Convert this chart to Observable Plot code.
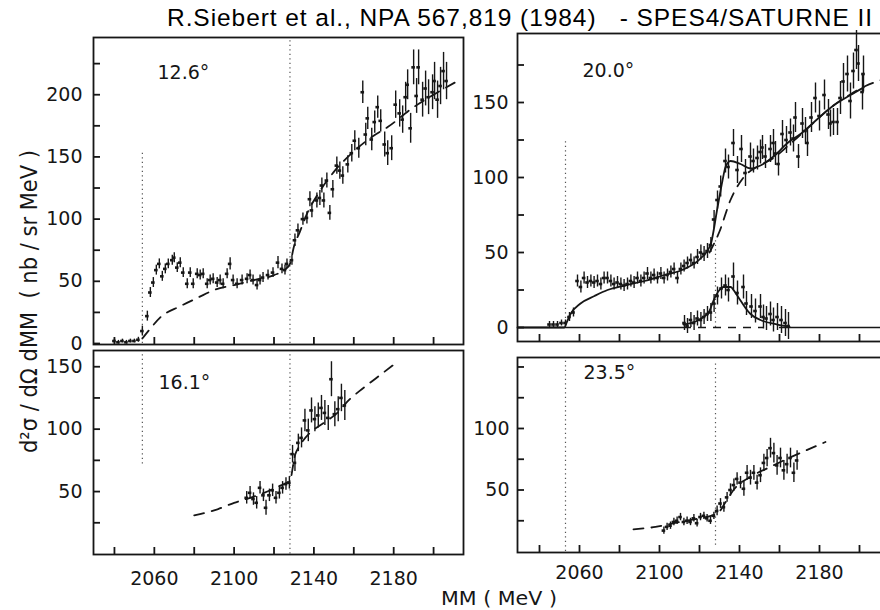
<!DOCTYPE html>
<html><head><meta charset="utf-8">
<script src="https://cdn.jsdelivr.net/npm/d3@7"></script>
<script src="https://cdn.jsdelivr.net/npm/@observablehq/plot@0.6"></script>
<style>
html,body{margin:0;padding:0;background:#fff;overflow:hidden}
#fig{position:relative;width:880px;height:610px;overflow:hidden;background:#fff}
</style></head><body><div id="fig"></div><script>
// ---------- data ----------
const titleText = "R.Siebert et al., NPA 567,819 (1984)   - SPES4/SATURNE II";
const yAxisText = "d\u00B2\u03C3 / d\u03A9 dMM  ( nb / sr MeV )";
const xAxisText = "MM ( MeV )";
const angleLabels = ["12.6\u00B0", "16.1\u00B0", "20.0\u00B0", "23.5\u00B0"];
const xTickValues = [2040, 2060, 2080, 2100, 2120, 2140, 2160, 2180, 2200];
const xTickLabels = [2060, 2100, 2140, 2180];

// 12.6 deg
const tlMM = [2040,2042,2044,2046,2048,2050,2052,2054,2056.5,2058,
  2059.5,2061,2062.5,2064,2065.5,2067,2069,2070,2071.5,2073,
  2074.5,2076.5,2078,2079.5,2081.5,2083,2084.5,2086.5,2088,2089.5,
  2091.5,2093,2094.5,2096.5,2098,2099.5,2101.5,2104,2106.5,2108,
  2109.5,2111.5,2113,2114.5,2117,2119.5,2122,2124,2125.5,2126.5,
  2129,2130.5,2132,2134.5,2136.5,2138,2139,2141.5,2143,2144,
  2145,2146.5,2148,2149.5,2151.5,2153,2154.5,2157,2159,2160.5,
  2162.5,2164.5,2166,2167,2169,2170.5,2172,2173.5,2175.5,2177,
  2179,2181,2183,2184.5,2186,2187,2188.5,2190,2191.5,2192.5,
  2194.5,2196,2197.5,2199.5,2200.5,2202,2203.5,2205,2206.5];
const tlVal = [2,1,2,1,2,2,3,10,22,41,
  49,59,64,54,60,64,67,69,61,65,
  57,48,57,48,56,55,56,48,51,52,
  49,51,48,56,64,51,48,51,52,55,
  51,47,51,53,55,57,65,60,59,64,
  67,83,91,100,101,116,107,115,117,127,
  115,131,105,124,143,139,135,144,153,163,
  157,202,168,181,164,178,190,179,160,153,
  157,192,185,180,198,208,173,222,199,222,
  196,205,198,202,211,196,207,219,211];
const tlErr = [1.5,1.5,1.5,1.5,1.5,1.5,2,4,4,4,
  4,4,4,4,4,4,4,4,4,4,
  4,4,4,4,4,4,4,4,4,4,
  4,4,4,4,5,4,4,4,4,4,
  4,4,4,4,4,4,5,4,4,4,
  4,5,5,5,5,6,6,6,6,6,
  6,6,6,7,7,7,7,7,7,8,
  8,9,9,9,9,9,9,9,10,10,
  10,11,11,11,12,12,12,14,14,14,
  14,14,14,14,15,15,15,15,15];
const tlFitMM = [2054,2058,2063,2073,2082,2090,2100,2110,2120,2126,2128,2130,2133,2137,2142,2150,2159,2169,2177,2190,2200,2212];
const tlFitVal = [4,12,21,30,37,43,47,51,55,60,64,78,90,106,120,138,153,166,174,190,200,211];

// 16.1 deg
const blMM = [2106.3,2108,2109.7,2111.3,2113,2114.7,2116,2117.7,2119.3,2121,
  2122.7,2124.3,2126,2127.7,2129.3,2130.5,2132.2,2133.8,2135.5,2137.2,
  2138.8,2140.5,2142.2,2143.8,2145.5,2147.2,2148.8,2150.5,2152.2,2153.8,2155.5];
const blVal = [45,49,44,41,53,47,37,47,51,45,
  49,53,56,57,80,73,89,93,107,99,
  115,108,111,117,113,109,140,112,116,125,119];
const blErr = [5,5,5,5,5,5,6,5,5,5,
  5,5,5,5,7,7,7,8,9,9,
  10,10,10,10,10,10,14,10,10,11,12];
const blFitMM = [2080,2092,2100,2106,2115,2122,2128,2130.5,2133,2138,2145,2151,2158,2164,2170.5,2179.5];
const blFitVal = [31,36,41,44,49,54,59,79,87,97,105,112,124,132,140,151];

// 20.0 deg
const trMM = [2045,2047,2049,2051,2053,2055,2057,
  2059,2060.7,2062.3,2064,2065.7,2067.3,2069,2070.7,2072.3,2074,
  2075.7,2077.3,2079,2080.7,2082.3,2084,2085.7,2087.3,2089,2090.7,
  2092.3,2094,2095.7,2097.3,2099,2100.7,2102.3,2104,2105.7,2107.3,
  2109,2110.7,2112.3,2114,2115.7,2117.3,2119,2120.7,2122.3,2124,
  2125.7,2127.3,2129,2130.6,2133,2134.5,2137,2139,2141,2143,
  2145.5,2147,2149,2150.5,2151.5,2153,2155.5,2157,2158,2159.5,
  2161.5,2163.5,2165.5,2167,2168,2169.5,2171.5,2173,2174,2176,
  2178,2180,2182.5,2184.5,2185.5,2187,2189,2190.5,2192,2194,
  2195.5,2197,2198.5,2199.5,2201.5,2202];
const trVal = [2,2,2,3,3,7,10,
  31,27,33,30,31,30,31,29,33,33,
  31,29,30,29,28,29,31,30,33,31,
  33,36,33,35,33,36,33,35,37,39,
  33,39,41,43,45,43,47,50,49,51,
  55,72,85,94,111,107,123,105,119,103,
  114,111,113,117,120,114,119,123,116,109,
  129,125,130,126,140,114,136,131,123,140,
  153,141,155,142,136,137,137,153,164,169,
  151,171,185,176,157,169];
const trErr = [2,2,2,2,2,3,3,
  4,4,4,4,4,4,4,4,4,4,
  4,4,4,4,4,4,4,4,4,4,
  4,4,4,4,4,4,4,4,4,4,
  4,4,4,4,4,4,5,5,5,5,
  5,6,6,7,8,8,9,9,9,9,
  9,8,8,8,8,8,9,9,8,8,
  9,9,9,9,10,8,10,9,9,10,
  10,10,10,10,9,9,9,11,12,12,
  12,12,13,12,12,12];
const trFitMM = [2029,2052.5,2053.5,2055.5,2060.5,2067.5,2074,2082.5,2092.5,2102.5,2112.5,2120.5,2125.5,2129,2131.5,2133,2135.5,2140.5,2145.5,2150.5,2157,2164,2170.5,2179,2187,2195.5,2202];
const trFitVal = [0,0,3,9,16,21,25,28,31,35,39,46,55,80,98,107,111,109,106,108,114,123,129,139,148,155,160];
const trBgMM = [2125,2130,2135.5,2142,2150,2157,2165,2175,2185,2195,2203,2211];
const trBgVal = [50,64,85,100,108,113,122,134,146,155,161,165];
const trDiffMM = [2112.5,2114,2115.7,2117.3,2119,2120.7,2122.3,2124,2125.7,2127.3,
  2129,2131,2133,2134.5,2137,2139,2142,2143.5,2146,2148,
  2150.5,2152,2153.5,2155.5,2157,2159,2161,2163,2164.5];
const trDiffVal = [3,1,5,3,6,5,7,9,10,16,
  21,26,28,25,34,23,27,16,14,11,
  14,7,6,9,5,7,5,3,1];
const trDiffErr = [5,5,5,5,5,5,5,5,6,6,
  6,7,7,8,9,8,8,8,8,8,
  8,8,8,8,8,9,9,9,9];
const trDiffFitMM = [2112,2118,2122,2125,2127,2130,2132,2135.5,2138,2140.5,2143,2145.5,2150.5,2159,2165];
const trDiffFitVal = [2,4,7,11,18,25,27,27,23,18,13,9,5,2,0.5];
const trZeroSolidFrom = [2029, 2160];
const trZeroSolidTo = [2112, 2215];
const trZeroDashFrom = [2112];
const trZeroDashTo = [2152];

// 23.5 deg
const brMM = [2102.2,2103.8,2105.5,2107.2,2108.8,2110.5,2112.2,2113.8,2115.5,2117.2,
  2118.8,2120.5,2122.2,2123.8,2125.5,2127.2,2128.8,2130.5,2132.2,2133.8,
  2135.5,2137.2,2138.8,2140.5,2142.2,2143.8,2145.5,2147.2,2148.8,2150.5,
  2152.2,2153.8,2155.5,2157.2,2158.8,2160.5,2162.2,2163.8,2165.5,2167.2,2168.8];
const brVal = [17,20,21,24,25,28,24,25,24,27,
  23,28,29,27,25,29,33,39,36,44,
  50,54,59,56,51,64,60,64,56,62,
  72,76,84,80,70,76,66,71,76,64,74];
const brErr = [3,3,3,3,3,3,3,3,3,3,
  3,3,3,3,3,3,4,4,4,4,
  5,5,5,5,6,6,6,6,6,6,
  7,7,8,8,8,8,8,8,8,8,8];
const brFitMM = [2087,2098,2110,2120,2129,2133,2137,2147,2157,2162,2173,2183];
const brFitVal = [18,20,24,27,31,40,50,62,70,74,82,89];

// threshold lines (MM, from, to)
const tlThrMM = [2054, 2128], tlThrLo = [0, 0], tlThrHi = [153, 246];
const blThrMM = [2054, 2128], blThrLo = [72, 0], blThrHi = [163, 163];
const trThrMM = [2053, 2128], trThrLo = [0, 0], trThrHi = [125, 60];
const brThrMM = [2053, 2128], brThrLo = [0, 5], brThrHi = [157, 155];

// ---------- drawing ----------
const INK = "#161616";
const FONT = "DejaVu Sans";
const TICK = 7;
const pts = (mm, v, e) => mm.map((m, i) => ({mm: m, v: v[i], e: e[i]}));
const crv = (mm, v) => mm.map((m, i) => ({mm: m, v: v[i]}));
const thr = (mm, lo, hi) => mm.map((m, i) => ({mm: m, lo: lo[i], hi: hi[i]}));

function panel(c) {
  const fw = c.right - c.ml, fh = c.bottom - c.top;
  const marks = [
    Plot.ruleX(thr(c.thrMM, c.thrLo, c.thrHi), {x: "mm", y1: "lo", y2: "hi", stroke: "#555", strokeWidth: 1.2, strokeDasharray: "1.3,3.2"}),
    Plot.frame({stroke: INK, strokeWidth: 1.8}),
    // inward tick marks (short ticks inset against the bottom / left edge of the frame)
    Plot.tickX(xTickValues, {x: d => d, insetTop: fh - TICK, stroke: INK, strokeWidth: 1.8}),
    Plot.tickY(c.yTicks, {y: d => d, insetRight: fw - TICK, stroke: INK, strokeWidth: 1.8}),
    Plot.axisY(c.yLabels, {anchor: "left", tickSize: 0, tickPadding: c.yPad, label: null, fontSize: 19, fontFamily: FONT, fill: INK, tickFormat: d => String(d)})
  ];
  if (c.xLabels) marks.push(Plot.axisX(xTickLabels, {anchor: "bottom", tickSize: 0, tickPadding: c.xPad, label: null, fontSize: 19, fontFamily: FONT, fill: INK, tickFormat: d => String(d)}));
  else marks.push(Plot.axisX([], {anchor: "bottom", tickSize: 0, label: null}));
  (c.extra || []).forEach(m => marks.push(m));
  c.curves.forEach(k => marks.push(Plot.line(k.data, {x: "mm", y: "v", curve: "monotone-x", stroke: INK, strokeWidth: 1.8, strokeDasharray: k.dash ? "10,8" : null})));
  c.series.forEach(s => {
    marks.push(Plot.ruleX(s, {x: "mm", y1: d => d.v - d.e, y2: d => d.v + d.e, stroke: INK, strokeWidth: 1.4}));
    marks.push(Plot.ruleY(s, {y: "v", x1: d => d.mm - 0.9, x2: d => d.mm + 0.9, stroke: INK, strokeWidth: 2.6}));
  });
  marks.push(Plot.text([c.label], {frameAnchor: "top-left", dx: c.lx, dy: c.ly, text: d => d, lineAnchor: "top", textAnchor: "start", fontSize: 19, fontFamily: FONT, fill: INK}));
  const svg = Plot.plot({
    width: c.width, height: 610,
    marginLeft: c.ml, marginRight: c.width - c.right, marginTop: c.top, marginBottom: 610 - c.bottom,
    x: {domain: c.xDomain, label: null},
    y: {domain: c.yDomain, label: null},
    style: {position: "absolute", left: "0px", top: "0px", maxWidth: "none", background: "transparent", overflow: "visible", color: INK, fontFamily: FONT},
    marks
  });
  document.getElementById("fig").appendChild(svg);
}

// 12.6
panel({width: 880, ml: 93, right: 463, top: 37, bottom: 344, xDomain: [2029.5, 2215], yDomain: [-0.8, 246],
  yTicks: [0,25,50,75,100,125,150,175,200,225], yLabels: [0,50,100,150,200], yPad: 11,
  thrMM: tlThrMM, thrLo: tlThrLo, thrHi: tlThrHi,
  curves: [{data: crv(tlFitMM, tlFitVal), dash: true}],
  series: [pts(tlMM, tlVal, tlErr)], label: angleLabels[0], lx: 64, ly: 28});
// 16.1
panel({width: 880, ml: 93, right: 463, top: 350, bottom: 554, xDomain: [2029.5, 2215], yDomain: [-0.4, 163],
  yTicks: [25,50,75,100,125,150], yLabels: [50,100,150], yPad: 11, xLabels: true, xPad: 17,
  thrMM: blThrMM, thrLo: blThrLo, thrHi: blThrHi,
  curves: [{data: crv(blFitMM, blFitVal), dash: true}],
  series: [pts(blMM, blVal, blErr)], label: angleLabels[1], lx: 65, ly: 25});
// 20.0
panel({width: 900, ml: 517, right: 889, top: 33, bottom: 341, xDomain: [2029, 2215], yDomain: [-9.33, 196],
  yTicks: [0,25,50,75,100,125,150,175], yLabels: [0,50,100,150], yPad: 9,
  thrMM: trThrMM, thrLo: trThrLo, thrHi: trThrHi,
  extra: [
    Plot.ruleY(trZeroSolidFrom.map((f, i) => ({x1: f, x2: trZeroSolidTo[i], y: 0})), {x1: "x1", x2: "x2", y: "y", stroke: INK, strokeWidth: 1.5}),
    Plot.ruleY(trZeroDashFrom.map((f, i) => ({x1: f, x2: trZeroDashTo[i], y: 0})), {x1: "x1", x2: "x2", y: "y", stroke: INK, strokeWidth: 1.5, strokeDasharray: "8,7"})
  ],
  curves: [{data: crv(trFitMM, trFitVal), dash: false}, {data: crv(trBgMM, trBgVal), dash: true}, {data: crv(trDiffFitMM, trDiffFitVal), dash: false}],
  series: [pts(trMM, trVal, trErr), pts(trDiffMM, trDiffVal, trDiffErr)], label: angleLabels[2], lx: 65, ly: 30});
// 23.5
panel({width: 900, ml: 517, right: 889, top: 357, bottom: 552, xDomain: [2029, 2215], yDomain: [-0.8, 157.7],
  yTicks: [25,50,75,100,125,150], yLabels: [50,100], yPad: 8, xLabels: true, xPad: 13,
  thrMM: brThrMM, thrLo: brThrLo, thrHi: brThrHi,
  curves: [{data: crv(brFitMM, brFitVal), dash: true}],
  series: [pts(brMM, brVal, brErr)], label: angleLabels[3], lx: 66, ly: 8});

// overlay texts
const ov = d3.select("#fig").append("svg").attr("width", 880).attr("height", 610)
  .style("position", "absolute").style("left", "0px").style("top", "0px");
ov.append("text").attr("x", 167).attr("y", 26).attr("font-family", "Liberation Sans, Arial, sans-serif")
  .attr("font-size", 24.5).attr("fill", "#000").attr("textLength", 705).attr("lengthAdjust", "spacing")
  .attr("xml:space", "preserve").style("white-space", "pre").text(titleText);
ov.append("text").attr("transform", "translate(37,453) rotate(-90)").attr("font-family", FONT)
  .attr("font-size", 23).attr("fill", INK).attr("textLength", 303).attr("lengthAdjust", "spacingAndGlyphs")
  .style("white-space", "pre").text(yAxisText);
ov.append("text").attr("x", 441).attr("y", 605).attr("font-family", FONT)
  .attr("font-size", 20).attr("fill", INK).attr("textLength", 116).attr("lengthAdjust", "spacingAndGlyphs").text(xAxisText);
</script></body></html>
